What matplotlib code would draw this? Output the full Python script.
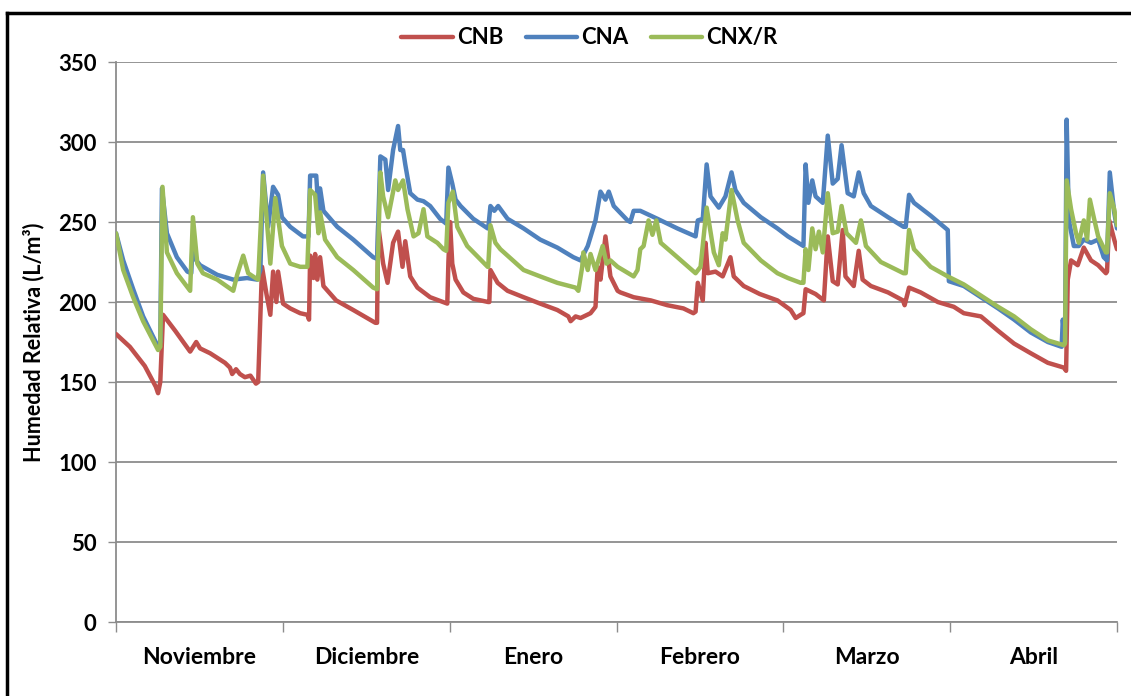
#!/usr/bin/env python3

import matplotlib
matplotlib.use('Agg')
import matplotlib.pyplot as plt
import numpy as np

# ======================================================================
# Series: days since 1 November, volumetric moisture (L/m3).
# ======================================================================

meses = ['Noviembre', 'Diciembre', 'Enero', 'Febrero', 'Marzo', 'Abril']
dias_temporada = 181

cnb_dia = [0, 2.5, 5.2, 7.2, 7.6, 8.0, 8.5, 10.7, 13.4, 14.5, 15.2, 17.0, 19.7,
           20.6, 21.0, 21.7, 22.4, 23.3, 24.3, 25.3, 25.7, 26.4, 27.2, 27.9,
           28.4, 29.0, 29.3, 30.2, 31.5, 33.3, 34.6, 34.9, 35.1, 35.7, 36.0,
           36.4, 36.9, 37.5, 39.8, 42.9, 46.9, 47.2, 47.4, 48.3, 49.1, 50.1,
           51.0, 51.8, 52.3, 53.2, 54.5, 56.8, 59.9, 60.1, 60.4, 60.8, 61.4,
           62.8, 64.6, 67.3, 67.5, 67.7, 69.0, 70.8, 73.7, 76.7, 79.8, 81.8,
           82.2, 83.1, 84.0, 85.8, 86.7, 87.1, 87.6, 88.5, 89.4, 90.7, 91.2,
           93.6, 96.7, 99.7, 102.6, 104.4, 104.8, 105.2, 106.1, 106.6, 107.0,
           108.4, 109.7, 111.1, 111.7, 113.5, 116.4, 119.6, 122.0, 122.9,
           123.8, 124.3, 124.7, 126.5, 128.0, 128.7, 129.6, 130.5, 131.4,
           131.9, 133.4, 134.3, 135.0, 136.5, 139.6, 142.3, 142.6, 143.4,
           145.5, 148.6, 151.5, 153.3, 156.4, 159.5, 162.4, 165.4, 168.5,
           171.4, 171.8, 172.1, 172.7, 173.9, 175.0, 176.3, 177.6, 179.0,
           179.2, 179.6, 180.5, 181]
cnb = [180, 172, 160, 147, 143, 150, 192, 182, 169, 175, 171, 168, 162,
       159, 155, 158, 155, 153, 154, 149, 150, 222, 205, 192,
       219, 200, 219, 199, 196, 193, 192, 189, 229, 215, 230,
       214, 228, 210, 201, 195, 187, 187, 248, 224, 212, 237,
       244, 222, 238, 216, 209, 203, 199, 225, 250, 224, 214,
       206, 202, 200, 200, 220, 212, 207, 203, 199, 195, 191,
       188, 191, 190, 193, 197, 222, 214, 241, 216, 207, 206,
       203, 201, 198, 196, 193, 194, 212, 201, 237, 218,
       219, 216, 228, 216, 210, 205, 201, 195, 190,
       192, 193, 208, 205, 201, 241, 213, 211, 245,
       216, 210, 232, 214, 210, 206, 201, 198, 209,
       206, 200, 197, 193, 191, 182, 174, 168, 162,
       159, 157, 214, 226, 223, 234, 226, 223, 218,
       219, 251, 239, 233]

cna_dia = [0, 1.3, 3.1, 4.9, 7.6, 8.0, 8.3, 9.2, 11.0, 12.9, 13.6, 13.9, 14.5,
           15.2, 18.3, 21.2, 23.7, 25.5, 26.1, 26.6, 27.5, 28.4, 29.3, 30.0,
           31.5, 33.8, 34.8, 35.1, 36.2, 36.6, 36.9, 37.5, 40.0, 42.9, 46.5,
           47.2, 47.8, 48.7, 49.2, 50.1, 51.0, 51.4, 51.9, 52.3, 53.2, 54.5,
           55.6, 56.8, 58.6, 59.7, 60.1, 60.8, 61.4, 62.3, 64.6, 67.2, 67.3,
           67.7, 68.4, 69.1, 70.8, 73.7, 76.7, 79.8, 82.7, 84.0, 85.3, 86.7,
           87.6, 88.5, 89.1, 90.0, 92.5, 93.0, 93.6, 94.8, 97.9, 101.5, 104.8,
           105.2, 106.1, 106.8, 107.5, 109.0, 110.2, 111.3, 112.0, 113.5,
           116.6, 119.6, 121.5, 124.3, 124.7, 125.2, 125.9, 126.5, 127.8,
           128.7, 129.6, 130.5, 131.2, 132.3, 133.4, 134.3, 135.2, 136.5,
           139.6, 142.4, 142.8, 143.4, 144.3, 147.3, 149.7, 150.4, 150.6,
           153.3, 156.4, 159.5, 162.4, 165.4, 168.5, 171.0, 171.2, 171.6,
           171.9, 172.3, 173.2, 174.1, 175.0, 176.3, 177.6, 178.6, 179.2,
           179.7, 180.5, 181]
cna = [243, 226, 208, 191, 172, 175, 271, 243, 228, 219, 218, 240, 226,
       223, 217, 214, 215, 214, 220, 281, 247, 272, 267, 253,
       247, 241, 241, 279, 279, 257, 271, 257, 247, 239, 228,
       227, 291, 289, 270, 295, 310, 295, 295, 286, 268, 264,
       263, 260, 252, 249, 284, 274, 264, 260, 252, 246, 246,
       260, 257, 260, 252, 246, 239, 234, 228, 226, 235, 251,
       269, 264, 269, 260, 251, 250, 257, 257, 252, 246, 241,
       251, 252, 286, 266, 259, 266, 281, 270, 262,
       253, 246, 241, 235, 286, 262, 276, 266, 262,
       304, 274, 277, 298, 268, 266, 281, 268, 260,
       253, 247, 247, 267, 262, 254, 247, 245, 213,
       210, 203, 196, 189, 181, 175, 172, 189, 175,
       314, 251, 235, 235, 239, 237, 239, 228, 226,
       281, 256, 246]

cnx_dia = [0, 1.3, 3.1, 4.9, 7.6, 8.0, 8.4, 9.2, 11.0, 13.4, 13.9, 14.7, 15.7,
           18.3, 21.2, 21.9, 23.0, 23.9, 25.2, 25.7, 26.6, 27.9, 28.8, 30.0,
           31.5, 33.3, 34.6, 35.1, 36.0, 36.6, 36.9, 37.8, 40.0, 42.9, 46.5,
           47.2, 47.8, 48.3, 49.2, 50.5, 51.0, 51.9, 52.7, 53.8, 54.7, 55.6,
           56.3, 58.1, 59.2, 59.7, 60.1, 60.9, 61.7, 63.5, 67.2, 67.3, 67.7,
           68.6, 69.5, 73.7, 76.7, 79.8, 83.1, 83.6, 84.3, 84.5, 85.3, 85.8,
           86.7, 88.0, 88.7, 89.4, 90.7, 93.6, 94.3, 94.8, 95.4, 96.3, 97.0,
           97.7, 98.5, 101.5, 104.8, 105.7, 106.8, 108.1, 109.0, 109.7, 110.2,
           111.3, 112.4, 113.5, 116.6, 119.6, 121.5, 123.8, 124.3, 124.7,
           125.2, 125.9, 126.5, 127.1, 127.8, 128.7, 129.6, 130.5, 131.2,
           132.1, 133.8, 134.7, 135.6, 138.3, 142.4, 142.8, 143.4, 144.3,
           147.3, 150.4, 153.3, 156.4, 159.5, 162.4, 165.4, 168.5, 171.4,
           171.6, 171.9, 172.7, 173.6, 174.1, 175.0, 175.6, 176.1, 176.8,
           177.6, 179.0, 179.2, 179.7, 180.5, 181]
cnx = [243, 220, 203, 188, 170, 172, 272, 231, 218, 207, 253, 224, 218,
       214, 207, 217, 229, 218, 215, 214, 279, 224, 265, 235,
       224, 222, 222, 270, 267, 243, 256, 239, 228, 220, 209,
       208, 281, 266, 253, 276, 270, 276, 258, 241, 243, 258,
       241, 237, 233, 232, 262, 269, 247, 235, 222, 222, 248,
       237, 233, 220, 216, 212, 209, 207, 222, 231, 220, 230,
       220, 235, 224, 226, 222, 216, 220, 233, 235, 251, 242,
       251, 237, 228, 218, 222, 259, 231, 223, 243, 239,
       270, 251, 237, 226, 218, 215, 212, 212, 233,
       220, 246, 233, 244, 231, 268, 243, 244, 260,
       243, 237, 251, 235, 225, 218, 218, 245, 233,
       222, 216, 211, 204, 197, 191, 183, 176, 173,
       174, 276, 258, 243, 237, 251, 239, 264, 253,
       241, 231, 231, 268, 258, 248]

series = [
    ('CNB', cnb_dia, cnb, '#C0504D'),
    ('CNA', cna_dia, cna, '#4F81BD'),
    ('CNX/R', cnx_dia, cnx, '#9BBB59'),
    ]

# ======================================================================
# Figure.
# ======================================================================

plt.rcParams['font.family'] = ['Lato', 'DejaVu Sans']
plt.rcParams['font.weight'] = 'bold'

fig = plt.figure(figsize=(11.31, 6.96), dpi=100)
ax = fig.add_axes([0.1026, 0.1063, 0.8850, 0.8046])

for nombre, x, y, color in series:
    ax.plot(x, y, color=color, lw=3.2, label=nombre,
            solid_joinstyle='round', solid_capstyle='round', zorder=3)

ax.set_xlim(0, dias_temporada)
ax.set_ylim(0, 350)
ax.set_yticks(np.arange(0, 351, 50))
ax.yaxis.grid(True, color='#8C8C8C', lw=1.3)
ax.set_axisbelow(True)

# month boundaries as ticks, names centred between them
limites = np.linspace(0, dias_temporada, len(meses) + 1)
centros = 0.5 * (limites[:-1] + limites[1:])
ax.set_xticks(limites)
ax.set_xticklabels([])
ax.set_xticks(centros, minor=True)
ax.set_xticklabels(meses, minor=True)
ax.tick_params(axis='x', which='major', length=7, width=1.0,
               color='#8C8C8C', direction='out')
ax.tick_params(axis='x', which='minor', length=0, pad=18, labelsize=16.5)
ax.tick_params(axis='y', length=6, width=1.0, color='#8C8C8C',
               labelsize=16, pad=8)

for lado in ['top', 'right']:
    ax.spines[lado].set_visible(False)
for lado in ['left', 'bottom']:
    ax.spines[lado].set_color('#8C8C8C')
    ax.spines[lado].set_linewidth(1.3)

ax.set_ylabel('Humedad Relativa (L/m³)', fontsize=15.5, fontweight='bold',
              labelpad=10)

ax.legend(loc='center', bbox_to_anchor=(0.473, 1.043), ncol=3,
          frameon=False, fontsize=16, handlelength=2.3, handletextpad=0.2,
          columnspacing=1.0, borderpad=0.2)

# outer frame
fig.add_artist(plt.Line2D([0.0062, 0.0062], [-0.01, 0.981],
                          transform=fig.transFigure, color='black', lw=2.5))
fig.add_artist(plt.Line2D([0.0062, 1.01], [0.981, 0.981],
                          transform=fig.transFigure, color='black', lw=2.5))

fig.savefig('out.png', dpi=100)
plt.close()
